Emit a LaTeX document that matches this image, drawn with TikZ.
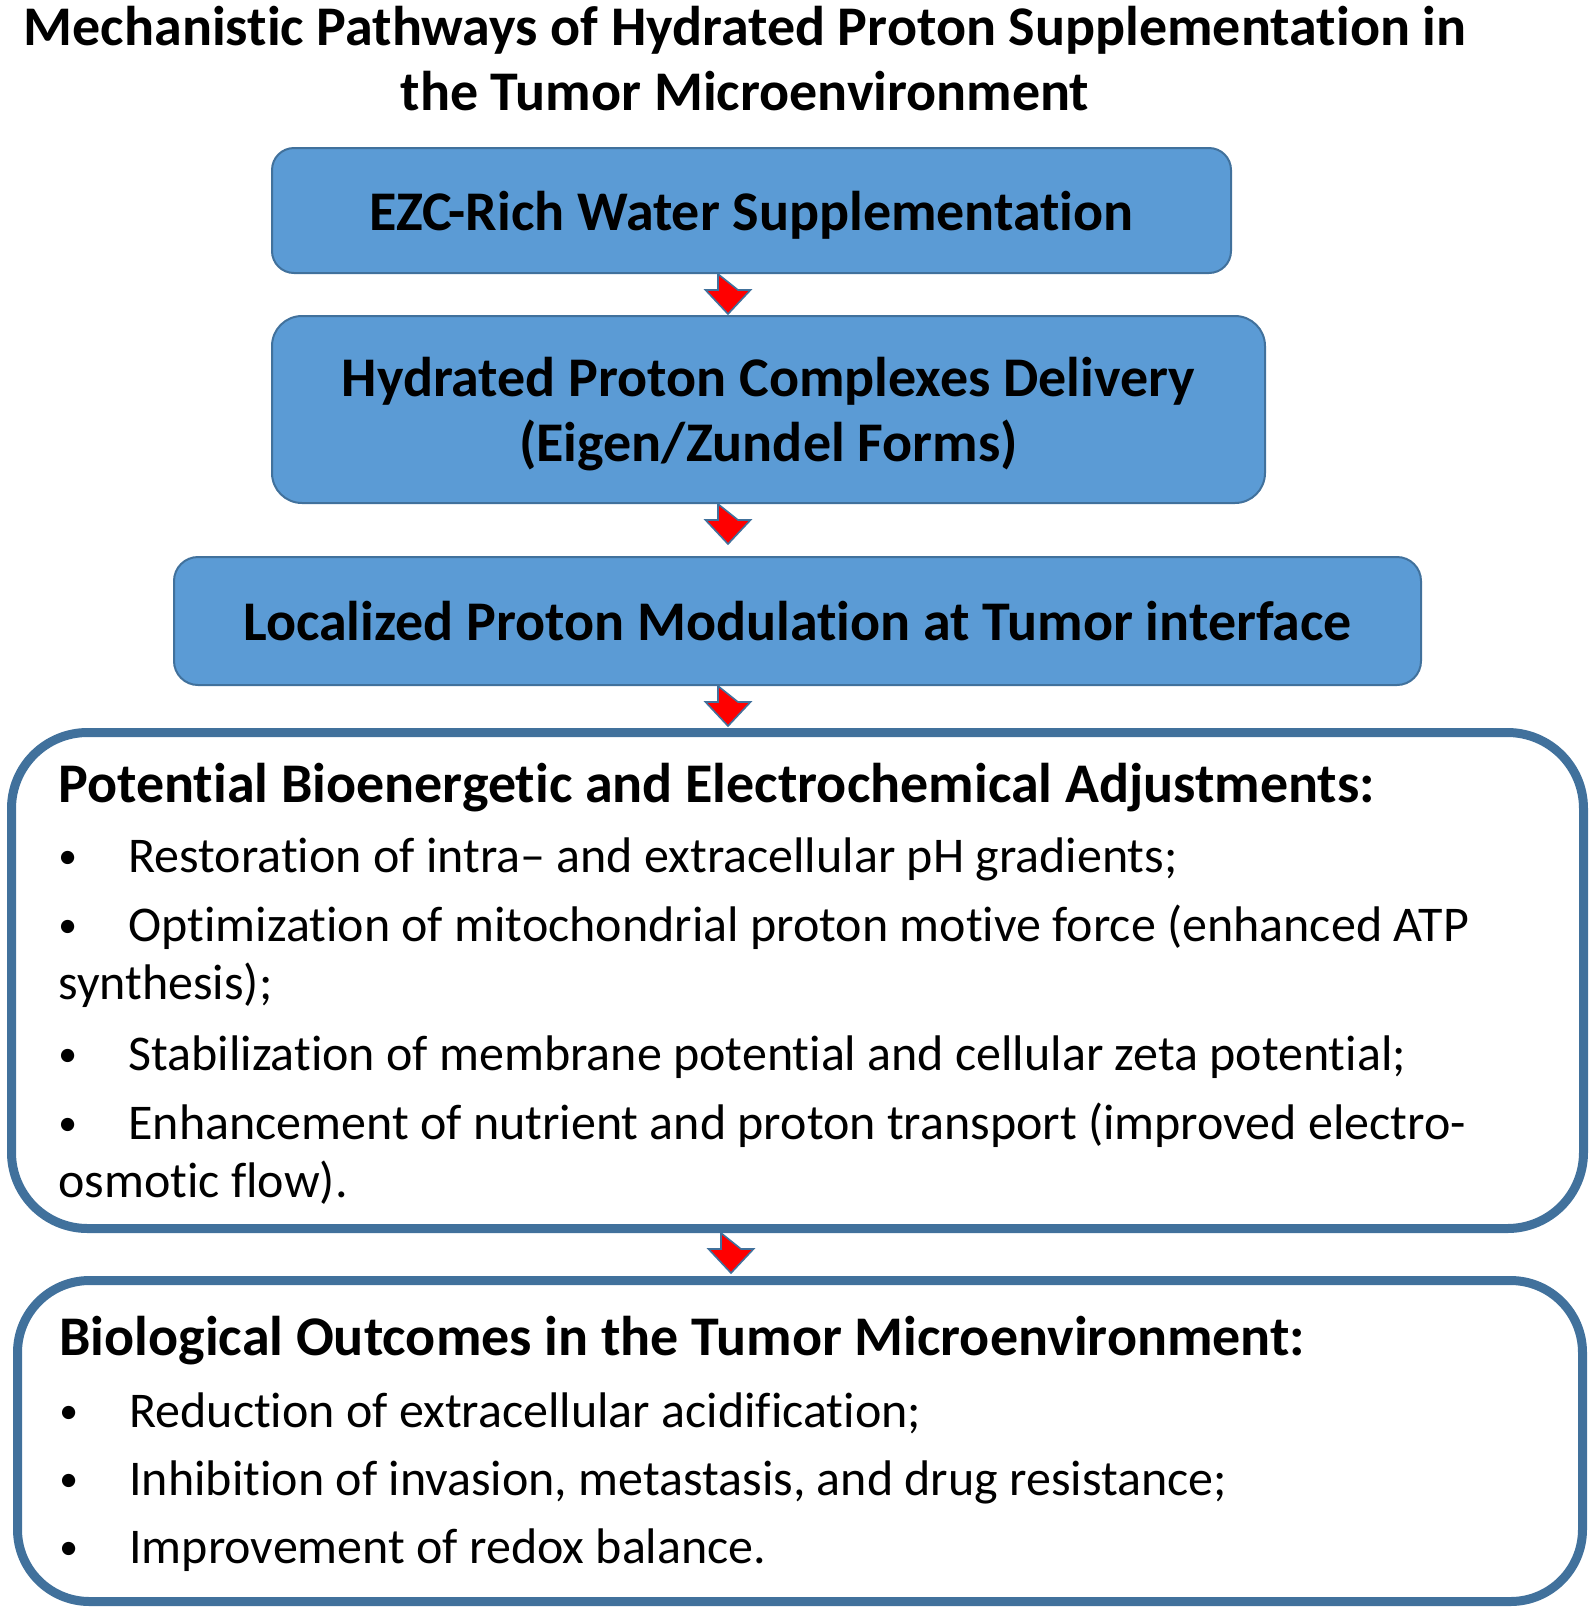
\documentclass[tikz,border=0pt]{standalone}
\usepackage{fontspec}
\setmainfont{Carlito}[Ligatures=NoCommon]
\usepackage{xcolor}
\usepackage{graphicx}
\usepackage{tikz}
\usetikzlibrary{calc}

\definecolor{stepblue}{HTML}{5B9BD5}
\definecolor{edgeblue}{HTML}{41719C}
\definecolor{arrowred}{HTML}{FF0000}

\newcommand{\itembullet}{\makebox[35pt][l]{\raisebox{1.6pt}{\scalebox{0.75}{\textbullet}}}}

\begin{document}
\begin{tikzpicture}[x=0.5pt, y=-0.5pt,
    stepbox/.style={draw=edgeblue, line width=1pt, fill=stepblue, align=center, inner sep=0pt,
        text depth=0pt, font=\fontsize{28}{32.5}\bfseries\selectfont},
    listbox/.style={draw=edgeblue, line width=4.5pt, inner sep=0pt},
    headtext/.style={anchor=base west, inner sep=0pt, font=\fontsize{28}{32}\bfseries\selectfont},
    itemtext/.style={anchor=base west, inner sep=0pt, align=left, font=\fontsize{25}{29}\selectfont},
    pics/downarrow/.style={code={
        \filldraw[fill=arrowred, draw=edgeblue, line width=0.8pt]
            (-10,0) -- (-10,16) -- (-22.5,16) -- (0,40) -- (22.5,16) -- (10,16) -- cycle;
    }}]
        % Fix the page size
        \useasboundingbox (0,0) rectangle (1594,1613);

        % Title (anchored at the baseline of its second line)
        \node[anchor=base, align=center, inner sep=0pt, font=\fontsize{28}{32.5}\bfseries\selectfont]
            (title) at (745,110) {Mechanistic Pathways of Hydrated Proton Supplementation in\\the Tumor Microenvironment};

        % Draw the three blue steps
        \node[stepbox, rounded corners=11pt, minimum width=479.5pt, minimum height=62.5pt]
            (ezc) at (751.5,210.5) {EZC-Rich Water Supplementation};
        \node[stepbox, rounded corners=15pt, minimum width=496.5pt, minimum height=93.5pt]
            (hydrated) at (768.5,409.5) {Hydrated Proton Complexes Delivery\\(Eigen/Zundel Forms)};
        \node[stepbox, rounded corners=12pt, minimum width=623.5pt, minimum height=64pt]
            (localized) at (797.5,621) {Localized Proton Modulation at Tumor interface};

        % Draw the two outlined boxes
        \node[listbox, rounded corners=38pt, minimum width=786pt, minimum height=248pt]
            (adjust) at (797.5,980.5) {};
        \node[listbox, rounded corners=36pt, minimum width=782.5pt, minimum height=160.5pt]
            (outcome) at (800,1441) {};

        % Text of the adjustments box (two-line items sit on their last line)
        \node[headtext] (adjhead) at (58,802) {Potential Bioenergetic and Electrochemical Adjustments:};
        \node[itemtext] (adj1) at (58,872) {\itembullet Restoration of intra– and extracellular pH gradients;};
        \node[itemtext] (adj2) at (58,999) {\itembullet Optimization of mitochondrial proton motive force (enhanced ATP\\synthesis);};
        \node[itemtext] (adj3) at (58,1070) {\itembullet Stabilization of membrane potential and cellular zeta potential;};
        \node[itemtext] (adj4) at (58,1197) {\itembullet Enhancement of nutrient and proton transport (improved electro-\\osmotic flow).};

        % Text of the outcomes box
        \node[headtext] (outhead) at (59,1355) {Biological Outcomes in the Tumor Microenvironment:};
        \node[itemtext] (out1) at (59,1427) {\itembullet Reduction of extracellular acidification;};
        \node[itemtext] (out2) at (59,1495) {\itembullet Inhibition of invasion, metastasis, and drug resistance;};
        \node[itemtext] (out3) at (59,1563) {\itembullet Improvement of redox balance.};

        % Red block arrows between the boxes
        \coordinate (spine) at (728,0);
        \coordinate (spinelow) at (731,0);
        \pic at (ezc.south -| spine) {downarrow};
        \pic at (hydrated.south -| spine) {downarrow};
        \pic at (localized.south -| spine) {downarrow};
        \pic at (adjust.south -| spinelow) {downarrow};
\end{tikzpicture}
\end{document}
